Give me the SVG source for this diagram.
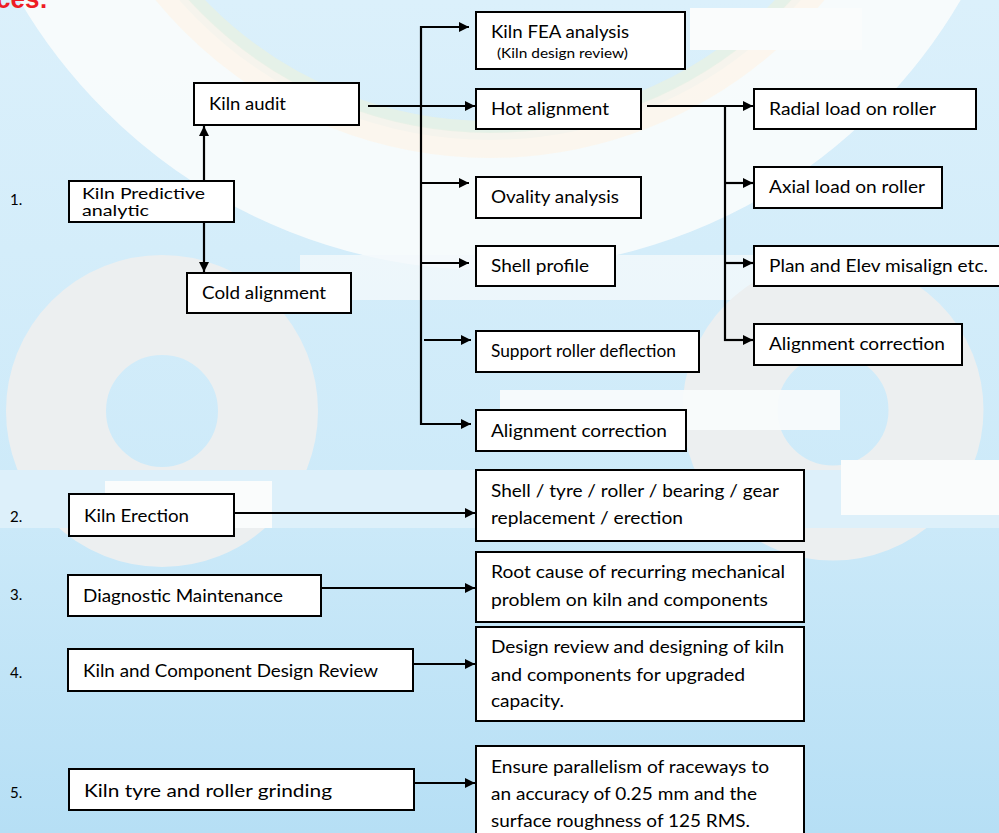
<svg xmlns="http://www.w3.org/2000/svg" width="999" height="833" viewBox="0 0 999 833">
<defs>
<linearGradient id="bg" x1="0" y1="0" x2="0" y2="1">
<stop offset="0" stop-color="#dbf0fb"/>
<stop offset="0.6" stop-color="#cdeaf9"/>
<stop offset="1" stop-color="#b6dff5"/>
</linearGradient>
<marker id="ah" markerUnits="userSpaceOnUse" markerWidth="11" markerHeight="11" refX="10" refY="5" orient="auto">
<path d="M0,0 L10,5 L0,10 z" fill="#000"/>
</marker>
<style>
.box{fill:#fff;stroke:#000;stroke-width:2}
.t{font-family:Lato,"Open Sans","DejaVu Sans",sans-serif;font-size:17px;fill:#000}
.s{font-size:13px}
.p{font-size:16px}
.n{font-family:Lato,"Open Sans",sans-serif;font-size:15px;fill:#000}
.c{stroke:#000;stroke-width:2.2;fill:none}
.a{marker-end:url(#ah)}
</style>
</defs>
<g id="background">
<rect x="0" y="0" width="999" height="833" fill="url(#bg)"/>
<circle cx="490" cy="-275" r="480" fill="none" stroke="#fafcfc" stroke-width="130" opacity="0.9"/>
<circle cx="490" cy="-275" r="420" fill="none" stroke="#fdf5ea" stroke-width="26" opacity="0.8"/>
<circle cx="490" cy="-275" r="402" fill="none" stroke="#e6f1e6" stroke-width="12" opacity="0.9"/>
<rect x="690" y="8" width="172" height="42" fill="#fafcfc"/>
<rect x="300" y="255" width="470" height="45" fill="#f4f9fb" opacity="0.8"/>
<circle cx="162" cy="411" r="106" fill="none" stroke="#eceff0" stroke-width="100"/>
<circle cx="833" cy="410" r="103" fill="none" stroke="#eceff0" stroke-width="95"/>
<rect x="0" y="470" width="999" height="58" fill="#ddf0fa"/>
<rect x="105" y="481" width="167" height="47" fill="#fafcfc"/>
<rect x="841" y="460" width="158" height="55" fill="#fafcfc"/>
<rect x="500" y="390" width="340" height="40" fill="#fafcfc" opacity="0.9"/>
</g>
<text x="-4" y="8" font-family="'Liberation Sans',Arial,sans-serif" font-size="28" font-weight="bold" fill="#ee1c24" textLength="52" lengthAdjust="spacingAndGlyphs">ces:</text>
<g id="connectors">
<line class="c a" x1="204" y1="181" x2="204" y2="126"/>
<line class="c a" x1="204" y1="222" x2="204" y2="272"/>
<line class="c a" x1="368" y1="106" x2="475" y2="106"/>
<line class="c" x1="421" y1="26" x2="421" y2="425"/>
<line class="c a" x1="420" y1="27" x2="469" y2="27"/>
<line class="c a" x1="420" y1="183" x2="469" y2="183"/>
<line class="c a" x1="420" y1="263" x2="469" y2="263"/>
<line class="c a" x1="424" y1="340" x2="471" y2="340"/>
<line class="c a" x1="420" y1="424" x2="471" y2="424"/>
<line class="c a" x1="647" y1="106" x2="753" y2="106"/>
<line class="c" x1="725" y1="107" x2="725" y2="341"/>
<line class="c a" x1="724" y1="183" x2="753" y2="183"/>
<line class="c a" x1="724" y1="263" x2="753" y2="263"/>
<line class="c a" x1="724" y1="340" x2="753" y2="340"/>
<line class="c a" x1="234" y1="513" x2="475" y2="513"/>
<line class="c a" x1="321" y1="588" x2="475" y2="588"/>
<line class="c a" x1="413" y1="664" x2="475" y2="664"/>
<line class="c a" x1="414" y1="783" x2="475" y2="783"/>
</g>
<g id="num1"><text class="n" x="10" y="205">1.</text></g>
<g id="num2"><text class="n" x="10" y="522">2.</text></g>
<g id="num3"><text class="n" x="10" y="600">3.</text></g>
<g id="num4"><text class="n" x="10" y="678">4.</text></g>
<g id="num5"><text class="n" x="10" y="798">5.</text></g>
<g id="kiln-audit"><rect class="box" x="194" y="83" width="165" height="42"/><text class="t" x="209" y="110" textLength="77" lengthAdjust="spacingAndGlyphs">Kiln audit</text></g>
<g id="kiln-predictive"><rect class="box" x="69" y="181" width="165" height="41"/><text class="t p" x="82" y="199" textLength="123" lengthAdjust="spacingAndGlyphs">Kiln Predictive</text><text class="t p" x="82" y="216" textLength="67" lengthAdjust="spacingAndGlyphs">analytic</text></g>
<g id="cold-alignment"><rect class="box" x="187" y="273" width="164" height="40"/><text class="t" x="202" y="299" textLength="124" lengthAdjust="spacingAndGlyphs">Cold alignment</text></g>
<g id="kiln-fea"><rect class="box" x="476" y="12" width="209" height="57"/><text class="t" x="491" y="38" textLength="138" lengthAdjust="spacingAndGlyphs">Kiln FEA analysis</text><text class="t s" x="497" y="58" textLength="131" lengthAdjust="spacingAndGlyphs">(Kiln design review)</text></g>
<g id="hot-alignment"><rect class="box" x="476" y="89" width="165" height="40"/><text class="t" x="491" y="115" textLength="118" lengthAdjust="spacingAndGlyphs">Hot alignment</text></g>
<g id="ovality"><rect class="box" x="476" y="177" width="165" height="41"/><text class="t" x="491" y="203" textLength="128" lengthAdjust="spacingAndGlyphs">Ovality analysis</text></g>
<g id="shell-profile"><rect class="box" x="476" y="246" width="139" height="40"/><text class="t" x="491" y="272" textLength="98" lengthAdjust="spacingAndGlyphs">Shell profile</text></g>
<g id="support-roller"><rect class="box" x="476" y="331" width="223" height="41"/><text class="t" x="491" y="357" textLength="185" lengthAdjust="spacingAndGlyphs">Support roller deflection</text></g>
<g id="alignment-correction-1"><rect class="box" x="476" y="410" width="210" height="41"/><text class="t" x="491" y="437" textLength="176" lengthAdjust="spacingAndGlyphs">Alignment correction</text></g>
<g id="radial-load"><rect class="box" x="754" y="89" width="222" height="40"/><text class="t" x="769" y="115" textLength="167" lengthAdjust="spacingAndGlyphs">Radial load on roller</text></g>
<g id="axial-load"><rect class="box" x="754" y="167" width="188" height="41"/><text class="t" x="769" y="193" textLength="156" lengthAdjust="spacingAndGlyphs">Axial load on roller</text></g>
<g id="plan-elev"><rect class="box" x="754" y="246" width="260" height="40"/><text class="t" x="769" y="272" textLength="219" lengthAdjust="spacingAndGlyphs">Plan and Elev misalign etc.</text></g>
<g id="alignment-correction-2"><rect class="box" x="754" y="324" width="208" height="41"/><text class="t" x="769" y="350" textLength="176" lengthAdjust="spacingAndGlyphs">Alignment correction</text></g>
<g id="kiln-erection"><rect class="box" x="69" y="494" width="165" height="42"/><text class="t" x="84" y="522" textLength="105" lengthAdjust="spacingAndGlyphs">Kiln Erection</text></g>
<g id="shell-tyre"><rect class="box" x="476" y="470" width="328" height="71"/><text class="t" x="491" y="497" textLength="288" lengthAdjust="spacingAndGlyphs">Shell / tyre / roller / bearing / gear</text><text class="t" x="491" y="524" textLength="192" lengthAdjust="spacingAndGlyphs">replacement / erection</text></g>
<g id="diagnostic"><rect class="box" x="68" y="575" width="253" height="41"/><text class="t" x="83" y="602" textLength="200" lengthAdjust="spacingAndGlyphs">Diagnostic Maintenance</text></g>
<g id="root-cause"><rect class="box" x="476" y="552" width="328" height="70"/><text class="t" x="491" y="578" textLength="294" lengthAdjust="spacingAndGlyphs">Root cause of recurring mechanical</text><text class="t" x="491" y="606" textLength="277" lengthAdjust="spacingAndGlyphs">problem on kiln and components</text></g>
<g id="design-review"><rect class="box" x="68" y="649" width="345" height="42"/><text class="t" x="83" y="677" textLength="295" lengthAdjust="spacingAndGlyphs">Kiln and Component Design Review</text></g>
<g id="design-upgrade"><rect class="box" x="476" y="627" width="328" height="94"/><text class="t" x="491" y="653" textLength="293" lengthAdjust="spacingAndGlyphs">Design review and designing of kiln</text><text class="t" x="491" y="681" textLength="254" lengthAdjust="spacingAndGlyphs">and components for upgraded</text><text class="t" x="491" y="707" textLength="73" lengthAdjust="spacingAndGlyphs">capacity.</text></g>
<g id="grinding"><rect class="box" x="69" y="769" width="345" height="41"/><text class="t" x="84" y="797" textLength="248" lengthAdjust="spacingAndGlyphs">Kiln tyre and roller grinding</text></g>
<g id="parallelism"><rect class="box" x="476" y="746" width="328" height="100"/><text class="t" x="491" y="773" textLength="278" lengthAdjust="spacingAndGlyphs">Ensure parallelism of raceways to</text><text class="t" x="491" y="800" textLength="266" lengthAdjust="spacingAndGlyphs">an accuracy of 0.25 mm and the</text><text class="t" x="491" y="827" textLength="259" lengthAdjust="spacingAndGlyphs">surface roughness of 125 RMS.</text></g>
</svg>
